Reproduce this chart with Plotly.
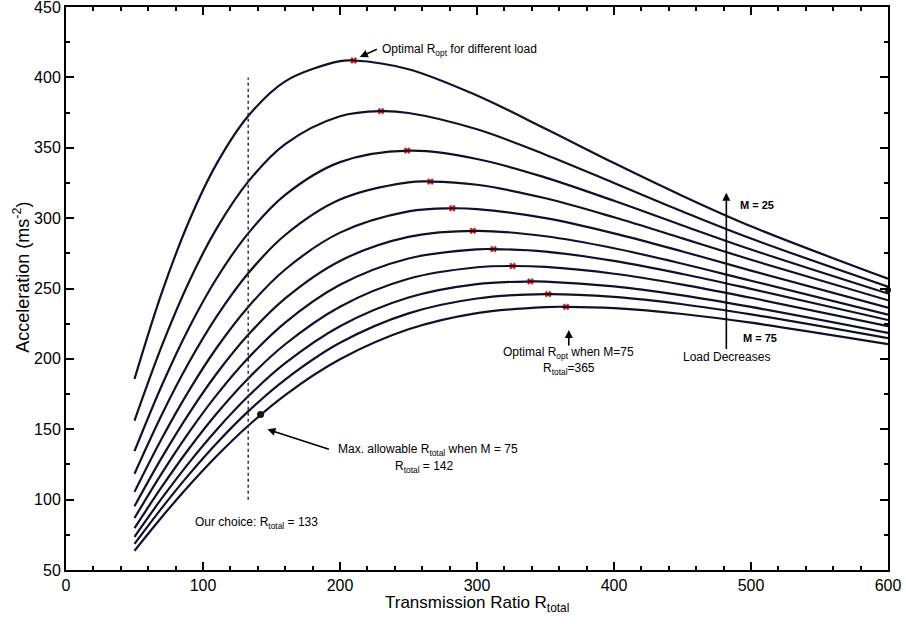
import plotly.graph_objects as go

# ---------------- data ----------------
loads = [25, 30, 35, 40, 45, 50, 55, 60, 65, 70, 75]  # M
x_grid = [50, 70, 90, 110, 133, 160, 200, 250, 300, 350, 400, 450, 500, 600]

acc_m25 = [185.7, 247.2, 298.3, 338.7, 372.5, 397.2, 411.5, 405.8, 387.1, 363.5, 339.1, 315.8, 294.2, 256.9]
acc_m30 = [156.1, 209.4, 255.2, 292.7, 325.9, 352.6, 372.4, 374.7, 363.1, 345.1, 325.0, 304.7, 285.5, 251.3]
acc_m35 = [134.4, 181.3, 222.5, 257.3, 289.2, 316.5, 339.8, 348.0, 342.0, 328.8, 312.3, 294.8, 277.7, 246.4]
acc_m40 = [118.4, 160.5, 197.9, 230.2, 260.8, 288.0, 313.2, 325.4, 323.7, 314.1, 300.6, 285.6, 270.4, 241.6]
acc_m45 = [105.5, 143.6, 177.8, 207.9, 236.9, 263.5, 289.7, 304.8, 306.4, 300.0, 289.2, 276.3, 262.7, 236.4]
acc_m50 = [95.3, 130.0, 161.5, 189.6, 217.1, 243.0, 269.6, 286.7, 291.0, 287.1, 278.6, 267.6, 255.5, 231.4]
acc_m55 = [86.9, 118.8, 148.1, 174.4, 200.6, 225.8, 252.6, 271.3, 277.8, 276.2, 269.6, 260.3, 249.7, 227.6]
acc_m60 = [79.7, 109.2, 136.5, 161.2, 186.1, 210.4, 237.1, 256.9, 265.1, 265.3, 260.5, 252.8, 243.4, 223.2]
acc_m65 = [73.6, 101.0, 126.5, 149.7, 173.4, 196.9, 223.2, 243.6, 253.1, 254.9, 251.5, 245.1, 236.9, 218.4]
acc_m70 = [68.5, 94.1, 118.1, 140.1, 162.7, 185.3, 211.4, 232.3, 242.9, 246.0, 244.0, 238.8, 231.6, 214.7]
acc_m75 = [63.7, 87.7, 110.2, 131.0, 152.5, 174.3, 199.7, 221.0, 232.5, 236.8, 236.0, 231.9, 225.7, 210.5]

curves = [acc_m25, acc_m30, acc_m35, acc_m40, acc_m45, acc_m50,
          acc_m55, acc_m60, acc_m65, acc_m70, acc_m75]

peak_x = [210, 230, 249, 266, 282, 297, 312, 326, 339, 352, 365]
peak_y = [412, 376, 348, 326, 307, 291, 278, 266, 255, 246, 237]

choice_r = 133
choice_span = [100, 400]
max_allow_x = [142]
max_allow_y = [160.5]
edge_dot_x = [600]
edge_dot_y = [249]

LINE = "#10102a"
RED = "#e0201c"
FONT = "Liberation Sans, Arial, Helvetica, sans-serif"

fig = go.Figure()

# peak markers (under lines)
fig.add_trace(go.Scatter(x=peak_x, y=peak_y, mode="markers",
                         marker=dict(symbol="x", size=6, color=RED,
                                     line=dict(width=0)),
                         hoverinfo="skip", showlegend=False))

for i, ys in enumerate(curves):
    pts = list(zip(x_grid, ys))
    if min(abs(peak_x[i] - g) for g in x_grid) > 5:
        pts.append((peak_x[i], peak_y[i]))
    pts.sort()
    fig.add_trace(go.Scatter(x=[p[0] for p in pts], y=[p[1] for p in pts],
                             mode="lines", name=f"M = {loads[i]}",
                             line=dict(color=LINE, width=2.2, shape="spline"),
                             showlegend=False))

# dotted vertical line: our choice
fig.add_trace(go.Scatter(x=[choice_r, choice_r], y=choice_span, mode="lines",
                         line=dict(color="#333333", width=1.5, dash="dot"),
                         showlegend=False, hoverinfo="skip"))

fig.add_trace(go.Scatter(x=max_allow_x, y=max_allow_y, mode="markers",
                         marker=dict(symbol="circle", size=7, color="#151515"),
                         showlegend=False))
fig.add_trace(go.Scatter(x=edge_dot_x, y=edge_dot_y, mode="markers",
                         marker=dict(symbol="circle", size=6, color="#151515"),
                         showlegend=False, cliponaxis=False))


def arrow(x, y, ax, ay, head=2, size=1, width=1.6):
    fig.add_annotation(x=x, y=y, ax=ax, ay=ay, xref="x", yref="y",
                       axref="x", ayref="y", text="", showarrow=True,
                       arrowhead=head, arrowsize=size, arrowwidth=width,
                       arrowcolor="#000000")


def label(x, y, text, xanchor="left", yanchor="middle", size=12):
    fig.add_annotation(x=x, y=y, xref="x", yref="y", text=text,
                       showarrow=False, xanchor=xanchor, yanchor=yanchor,
                       font=dict(family=FONT, size=size, color="#000000"))


# Optimal R_opt for different load
label(229, 419.5, "Optimal R<sub>opt</sub> for different load")
arrow(214.5, 414.5, 228, 420.5)

# Load decreases arrow
arrow(482, 318, 482, 206)
label(490.5, 309.5, "<b>M = 25</b>", size=11)
label(492.5, 215, "<b>M = 75</b>", size=11)
label(482, 201, "Load Decreases", xanchor="center")

# Optimal when M = 75
arrow(367, 220.5, 367, 208.5)
label(367, 204.5, "Optimal R<sub>opt</sub> when M=75", xanchor="center")
label(367, 192.5, "R<sub>total</sub>=365", xanchor="center")

# Max allowable
arrow(147, 150, 193, 135.5)
label(197, 135.5, "Max. allowable R<sub>total</sub> when M = 75")
label(262, 123.5, "R<sub>total</sub> = 142", xanchor="center")

# Our choice
label(92.5, 83.5, "Our choice: R<sub>total</sub> = 133")

# axis titles
fig.add_annotation(x=0.5, y=-0.06, xref="paper", yref="paper",
                   text="Transmission Ratio R<sub>total</sub>", showarrow=False,
                   xanchor="center", yanchor="middle",
                   font=dict(family=FONT, size=17, color="#000000"))
fig.add_annotation(x=-0.054, y=0.52, xref="paper", yref="paper",
                   text="Acceleration (ms<sup>-2</sup>)", showarrow=False,
                   textangle=-90, xanchor="center", yanchor="middle",
                   font=dict(family=FONT, size=18, color="#000000"))

axis_common = dict(showline=True, linecolor="#000000", linewidth=2,
                   mirror="allticks", ticks="inside", ticklen=8,
                   tickwidth=1.5, tickcolor="#000000", showgrid=False,
                   zeroline=False, automargin=False,
                   ticklabeloverflow="allow",
                   tickfont=dict(family=FONT, size=16, color="#000000"))

fig.update_xaxes(range=[0, 600], dtick=100, tick0=0,
                 minor=dict(dtick=20, ticks="inside", ticklen=4,
                            tickcolor="#000000", tickwidth=1.5),
                 **axis_common)
fig.update_yaxes(range=[50, 450], dtick=50, tick0=50,
                 minor=dict(dtick=25, ticks="inside", ticklen=4,
                            tickcolor="#000000", tickwidth=1.5),
                 **axis_common)

fig.update_layout(width=906, height=624,
                  margin=dict(l=66, r=18, t=7, b=54),
                  paper_bgcolor="#ffffff", plot_bgcolor="#ffffff",
                  showlegend=False)

fig.write_html("out.html")
